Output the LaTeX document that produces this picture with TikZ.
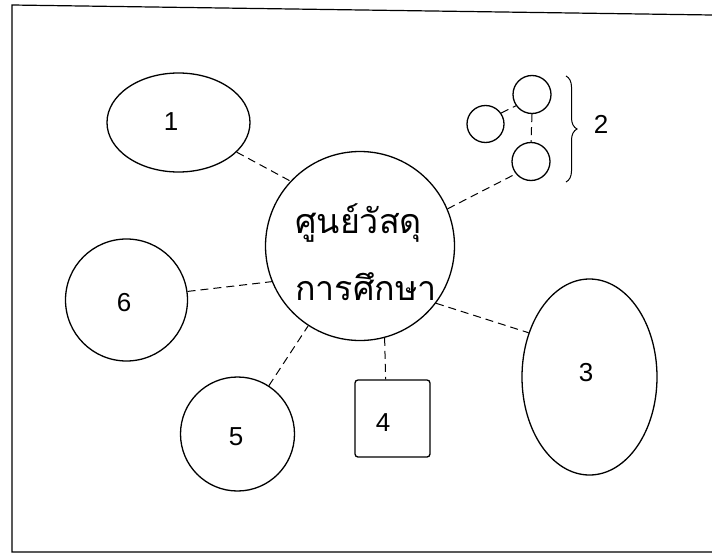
\documentclass[tikz,border=0pt]{standalone}
\usepackage{fontspec}
\setmainfont{Liberation Sans}
\newfontfamily\thaifont[Script=Thai]{Loma}
\usetikzlibrary{shapes.geometric,decorations.pathreplacing}
\begin{document}
\begin{tikzpicture}[x=1pt,y=-1pt,
  outline/.style={draw=black,line width=1.3pt,inner sep=0pt},
  ring/.style={outline,circle,minimum size=#1},
  oval/.style={outline,ellipse},
  link/.style={draw=black,line width=1pt,dash pattern=on 8pt off 5pt},
  num/.style={font=\fontsize{26}{28}\selectfont,inner sep=0pt},
  thaitext/.style={font=\thaifont\fontsize{34}{36}\selectfont,inner sep=0pt,anchor=base west},
  framestyle/.style={draw=black,line width=1.2pt}]
\useasboundingbox (0,0) rectangle (712,554);
% frame
\draw[framestyle] (712,15) -- (12,5) -- (12,552) -- (712,552);
% shapes
\node[ring=189pt] (c) at (360,246) {};
\node[oval,minimum width=143pt,minimum height=99pt] (n1) at (178.5,122.5) {};
\node[ring=122pt] (n6) at (126.5,300) {};
\node[ring=114pt] (n5) at (237.5,434) {};
\node[outline,rectangle,rounded corners=3pt,minimum width=75pt,minimum height=77pt] (n4) at (392.5,418.5) {};
\node[oval,minimum width=135pt,minimum height=196pt] (n3) at (589.5,377) {};
\node[ring=37pt] (s2a) at (485.5,124) {};
\node[ring=38pt] (s2b) at (532,94.5) {};
\node[ring=38pt] (s2c) at (531,161.5) {};
% labels
\node[num] (l1) at (171,122) {1};
\node[num] (l6) at (124,303) {6};
\node[num] (l5) at (236,437) {5};
\node[num] (l4) at (383,423) {4};
\node[num] (l3) at (586,373) {3};
\node[num] (l2) at (601,124) {2};
\node[thaitext] (t1) at (295,233) {ศูนย์วัสดุ};
\node[thaitext] (t2) at (295,300) {การศึกษา};
% brace
\coordinate (bt) at (566,76);
\coordinate (bb) at (566,182);
\draw[line width=1pt,decorate,decoration={brace,amplitude=11pt}] (bt) -- (bb);
% connectors
\draw[link] (n1.-27) -- (c.137);
\draw[link] (n6.8.6) -- (c.202);
\draw[link] (n5.57.6) -- (c.237.8);
\draw[link] (c.-75.4) -- (n4.100);
\draw[link] (c.-37.3) -- (n3.144.2);
\draw[link] (c.23.4) -- (s2c.219.4);
\draw[link] (s2a.35) -- (s2b.215);
\draw[link] (s2b.south) -- (s2c.north);
\end{tikzpicture}
\end{document}
